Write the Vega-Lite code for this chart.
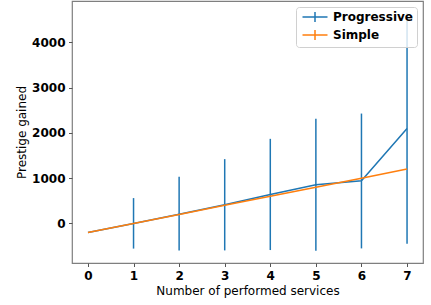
{
  "$schema": "https://vega.github.io/schema/vega-lite/v6.json",
  "width": 351,
  "height": 262,
  "autosize": {"type": "none"},
  "padding": {"left": 72, "top": 1, "right": 8, "bottom": 42},
  "background": "white",
  "config": {
    "font": "DejaVu Sans",
    "view": {"stroke": "#7f7f7f", "strokeWidth": 1.2},
    "axis": {
      "domain": false,
      "grid": false,
      "ticks": true,
      "tickColor": "#555555",
      "tickSize": 3.5,
      "tickWidth": 1,
      "labelFont": "DejaVu Sans",
      "labelFontSize": 12,
      "labelFontWeight": "bold",
      "labelColor": "#000000",
      "labelPadding": 3.5,
      "titleFont": "DejaVu Sans",
      "titleFontSize": 12,
      "titleFontWeight": "normal",
      "titleColor": "#000000"
    }
  },
  "data": {
    "values": [
      {"n": 0, "series": "Progressive", "y": -200, "lo": -200, "hi": -200},
      {"n": 1, "series": "Progressive", "y": 0, "lo": -555, "hi": 560},
      {"n": 2, "series": "Progressive", "y": 205, "lo": -595, "hi": 1030},
      {"n": 3, "series": "Progressive", "y": 412, "lo": -595, "hi": 1420},
      {"n": 4, "series": "Progressive", "y": 640, "lo": -587, "hi": 1868},
      {"n": 5, "series": "Progressive", "y": 853, "lo": -602, "hi": 2309},
      {"n": 6, "series": "Progressive", "y": 941, "lo": -551, "hi": 2426},
      {"n": 7, "series": "Progressive", "y": 2095, "lo": -448, "hi": 4640},
      {"n": 0, "series": "Simple", "y": -200, "lo": -200, "hi": -200},
      {"n": 1, "series": "Simple", "y": 0, "lo": 0, "hi": 0},
      {"n": 2, "series": "Simple", "y": 200, "lo": 200, "hi": 200},
      {"n": 3, "series": "Simple", "y": 400, "lo": 400, "hi": 400},
      {"n": 4, "series": "Simple", "y": 600, "lo": 600, "hi": 600},
      {"n": 5, "series": "Simple", "y": 800, "lo": 800, "hi": 800},
      {"n": 6, "series": "Simple", "y": 1000, "lo": 1000, "hi": 1000},
      {"n": 7, "series": "Simple", "y": 1200, "lo": 1200, "hi": 1200}
    ]
  },
  "encoding": {
    "x": {
      "field": "n",
      "type": "quantitative",
      "scale": {"domain": [-0.35, 7.35], "nice": false, "zero": false},
      "axis": {"values": [0, 1, 2, 3, 4, 5, 6, 7], "format": "d", "title": "Number of performed services", "titlePadding": 4}
    },
    "color": {
      "field": "series",
      "type": "nominal",
      "scale": {"domain": ["Progressive", "Simple"], "range": ["#1f77b4", "#ff7f0e"]},
      "legend": {
        "title": null,
        "orient": "top-right",
        "offset": 6,
        "symbolType": "M-2.5,0H2.5M0,-1V1",
        "symbolSize": 100,
        "symbolStrokeWidth": 1.5,
        "symbolOffset": 9,
        "labelOffset": 12,
        "labelFont": "DejaVu Sans",
        "labelFontSize": 12,
        "labelFontWeight": "bold",
        "labelColor": "#000000",
        "rowPadding": 2,
        "padding": 4,
        "strokeColor": "#d0d0d0",
        "fillColor": "rgba(255,255,255,0.8)",
        "cornerRadius": 3
      }
    }
  },
  "layer": [
    {
      "transform": [{"filter": "datum.hi > datum.lo"}],
      "mark": {"type": "rule", "strokeWidth": 1.5},
      "encoding": {
        "y": {"field": "lo", "type": "quantitative"},
        "y2": {"field": "hi"}
      }
    },
    {
      "mark": {"type": "line", "strokeWidth": 1.5},
      "encoding": {
        "y": {
          "field": "y",
          "type": "quantitative",
          "scale": {"domain": [-873, 4911], "nice": false, "zero": false},
          "axis": {"values": [0, 1000, 2000, 3000, 4000], "format": "d", "title": "Prestige gained", "titlePadding": 3}
        }
      }
    }
  ]
}
